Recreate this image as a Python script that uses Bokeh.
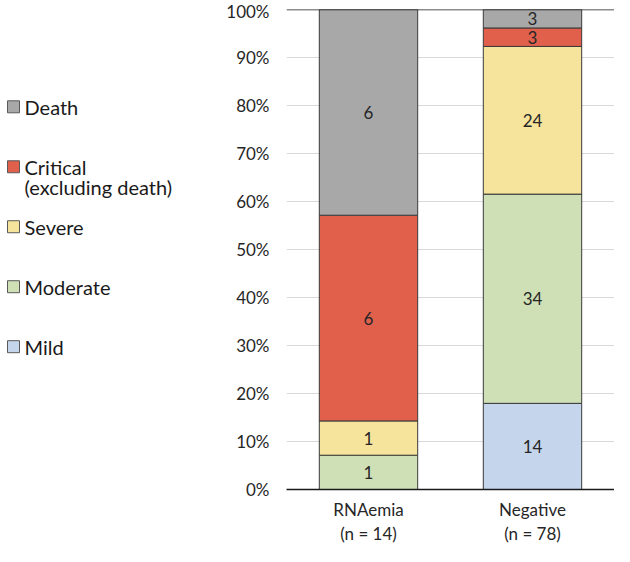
from bokeh.plotting import figure
from bokeh.models import ColumnDataSource, FactorRange, Range1d, PrintfTickFormatter, Span, FixedTicker
from bokeh.layouts import row
from bokeh.embed import file_html
from bokeh.resources import INLINE
from bokeh.core.properties import value

# ---- data ----
groups = ["RNAemia\n(n = 14)", "Negative\n(n = 78)"]
severity = ["Mild", "Moderate", "Severe", "Critical", "Death"]
legend_labels = ["Mild", "Moderate", "Severe", "Critical\n(excluding death)", "Death"]
mild = [0, 14]
moderate = [1, 34]
severe = [1, 24]
critical = [6, 3]
death = [6, 3]
colors = ["#C5D6EC", "#CFE0B6", "#F7E49C", "#E0604C", "#A9A8A9"]
y_ticks = [0, 10, 20, 30, 40, 50, 60, 70, 80, 90, 100]

FONT = "Lato"
counts = {"Mild": mild, "Moderate": moderate, "Severe": severe, "Critical": critical, "Death": death}
totals = [sum(counts[s][i] for s in severity) for i in range(len(groups))]

data = {"group": groups}
for s in severity:
    data[s] = [100.0 * c / t for c, t in zip(counts[s], totals)]
src = ColumnDataSource(data)

H = 546
TOP, BOTTOM = 9, 52
LW = 223

p = figure(x_range=FactorRange(*groups), y_range=Range1d(0, 100),
           width=391, height=H, output_backend="svg", toolbar_location=None,
           min_border_left=62, min_border_right=0, min_border_top=TOP, min_border_bottom=BOTTOM)
p.vbar_stack(severity, x="group", width=0.6, source=src, color=colors,
             line_color="#3A3A3A", line_width=1)

# segment labels
lx, ly, lt = [], [], []
for i, g in enumerate(groups):
    base = 0.0
    for s in severity:
        v = data[s][i]
        if counts[s][i] > 0:
            lx.append(g); ly.append(base + v / 2); lt.append(str(counts[s][i]))
        base += v
p.text(x=lx, y=ly, text=lt, text_align="center", text_baseline="middle",
       text_font=value(FONT), text_font_size="17px", text_color="#262626")

p.add_layout(Span(location=p.y_range.end, dimension="width", line_color="#1A1A1A", line_width=1.5))

p.outline_line_color = None
p.xgrid.grid_line_color = None
p.ygrid.grid_line_color = "#D9D9D9"
p.yaxis.ticker = FixedTicker(ticks=y_ticks)
p.yaxis.formatter = PrintfTickFormatter(format="%d%%")
p.yaxis.axis_line_color = None
p.yaxis.major_tick_line_color = None
p.yaxis.minor_tick_line_color = None
p.yaxis.major_tick_out = 0
p.yaxis.major_tick_in = 0
p.yaxis.minor_tick_out = 0
p.yaxis.major_label_standoff = 17
p.yaxis.major_label_text_font = FONT
p.yaxis.major_label_text_font_size = "17px"
p.yaxis.major_label_text_color = "#262626"
p.xaxis.axis_line_color = "#1A1A1A"
p.xaxis.axis_line_width = 1.5
p.xaxis.major_tick_line_color = None
p.xaxis.major_tick_out = 0
p.xaxis.major_tick_in = 0
p.xaxis.major_label_standoff = 9
p.xaxis.major_label_text_font = FONT
p.xaxis.major_label_text_font_size = "17px"
p.xaxis.major_label_text_line_height = 1.15
p.xaxis.major_label_text_color = "#262626"

# ---- legend panel (pixel-like layout scale from the top of its frame) ----
lg = figure(x_range=Range1d(0, LW), y_range=Range1d(H - TOP - BOTTOM - 4, 0), width=LW, height=H,
            output_backend="svg", toolbar_location=None,
            min_border_left=0, min_border_right=0, min_border_top=TOP, min_border_bottom=BOTTOM)
lg.axis.visible = False
lg.grid.visible = False
lg.outline_line_color = None

first_y, step, line_h = 97.5, 60.1, 20
order = list(range(len(severity)))[::-1]
sx, sy, sc, tx, ty, tt = [], [], [], [], [], []
for k, idx in enumerate(order):
    y0 = first_y + k * step
    sx.append(13); sy.append(y0); sc.append(colors[idx])
    for j, line in enumerate(legend_labels[idx].split("\n")):
        tx.append(24); ty.append(y0 + j * line_h); tt.append(line)
lg.scatter(x=sx, y=sy, marker="square", size=12, fill_color=sc, line_color="#595959", line_width=1)
lg.text(x=tx, y=ty, text=tt, text_baseline="middle", text_align="left",
        text_font=value(FONT), text_font_size="20px", text_color="#1A1A1A")

layout = row(lg, p)
open("out.html", "w").write(file_html(layout, INLINE))
